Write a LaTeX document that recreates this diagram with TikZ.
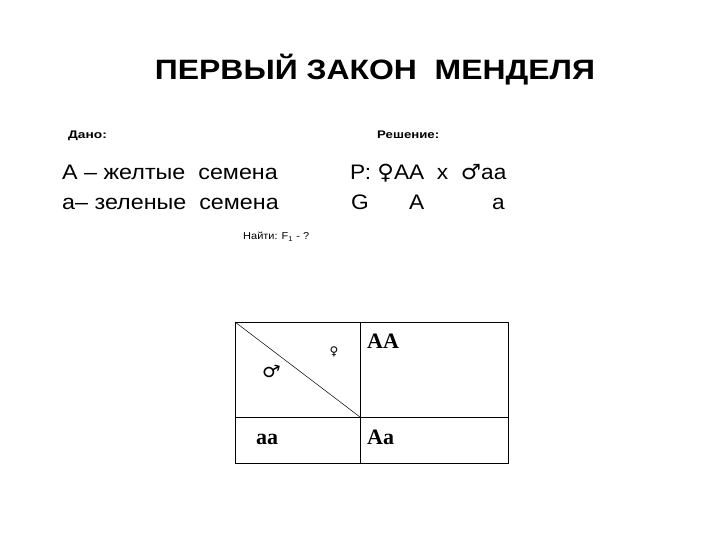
\documentclass[tikz,border=0pt]{standalone}
\usepackage{fontspec}
\setmainfont{Liberation Sans}
\newfontfamily\serifbf{Liberation Serif}
\newfontfamily\symfont{DejaVu Sans}
\usetikzlibrary{positioning}
\newcommand{\wide}[2]{\scalebox{#1}[1]{#2}}

\begin{document}
\begin{tikzpicture}[x=1pt,y=-1pt,
  txt/.style={anchor=base west,inner sep=0pt},
  cellbox/.style={draw,line width=0.7pt}]
\useasboundingbox (0,0) rectangle (720,540);
% Title
\node[inner sep=0pt,anchor=base] (title) at (375,80) {\wide{1.14}{\fontsize{28}{30}\selectfont\bfseries ПЕРВЫЙ ЗАКОН\ \ МЕНДЕЛЯ}};

% Given
\node[txt] (dano) at (68,139) {\wide{1.25}{\fontsize{11}{12}\selectfont\bfseries Дано:}};
\node[txt] (reshenie) at (377,139) {\wide{1.2}{\fontsize{11}{12}\selectfont\bfseries Решение:}};
\node[txt] (gena) at (62,180) {\wide{1.11}{\fontsize{21}{24}\selectfont А – желтые\ \ семена}};
\node[txt] (genb) at (62,210) {\wide{1.11}{\fontsize{21}{24}\selectfont а– зеленые\ \ семена}};

% Parents and gametes
\node[txt] (parents) at (350,180) {\wide{1.08}{\fontsize{21}{24}\selectfont Р: {\symfont ♀}АА\ \ x\ \ {\symfont ♂}аа}};
\node[txt] (gam) at (351,210) {\wide{1.08}{\fontsize{21}{24}\selectfont G}};
\node[txt] (gamA) at (409,210) {\wide{1.08}{\fontsize{21}{24}\selectfont A}};
\node[txt] (gama) at (492,210) {\wide{1.08}{\fontsize{21}{24}\selectfont a}};
\node[txt] (find) at (243,240) {\wide{1.1}{\fontsize{10}{12}\selectfont Найти: F\textsubscript{1} - ?}};

% Punnett square
\coordinate (tl) at (235,322);
\coordinate (mt) at (360,322);
\coordinate (tr) at (508,322);
\coordinate (ml) at (235,417);
\coordinate (mid) at (360,417);
\coordinate (mr) at (508,417);
\coordinate (bl) at (235,463);
\coordinate (mb) at (360,463);
\coordinate (br) at (508,463);
\draw[cellbox] (tl) rectangle (br);
\draw[cellbox] (mt) -- (mb);
\draw[cellbox] (ml) -- (mr);
\draw[line width=0.5pt] (tl) -- (mid);
\node (fem) at (334,352) {\fontsize{12}{14}\selectfont\symfont ♀};
\node[rotate=-15] (mal) at (271,371) {\fontsize{19}{20}\selectfont\symfont ♂};
\node[txt] (cAA) at (367,348) {\fontsize{22}{24}\selectfont\serifbf\bfseries AA};
\node[txt] (caa) at (256,444) {\fontsize{22}{24}\selectfont\serifbf\bfseries aa};
\node[txt] (cAa) at (367,444) {\fontsize{22}{24}\selectfont\serifbf\bfseries Aa};
\end{tikzpicture}
\end{document}
